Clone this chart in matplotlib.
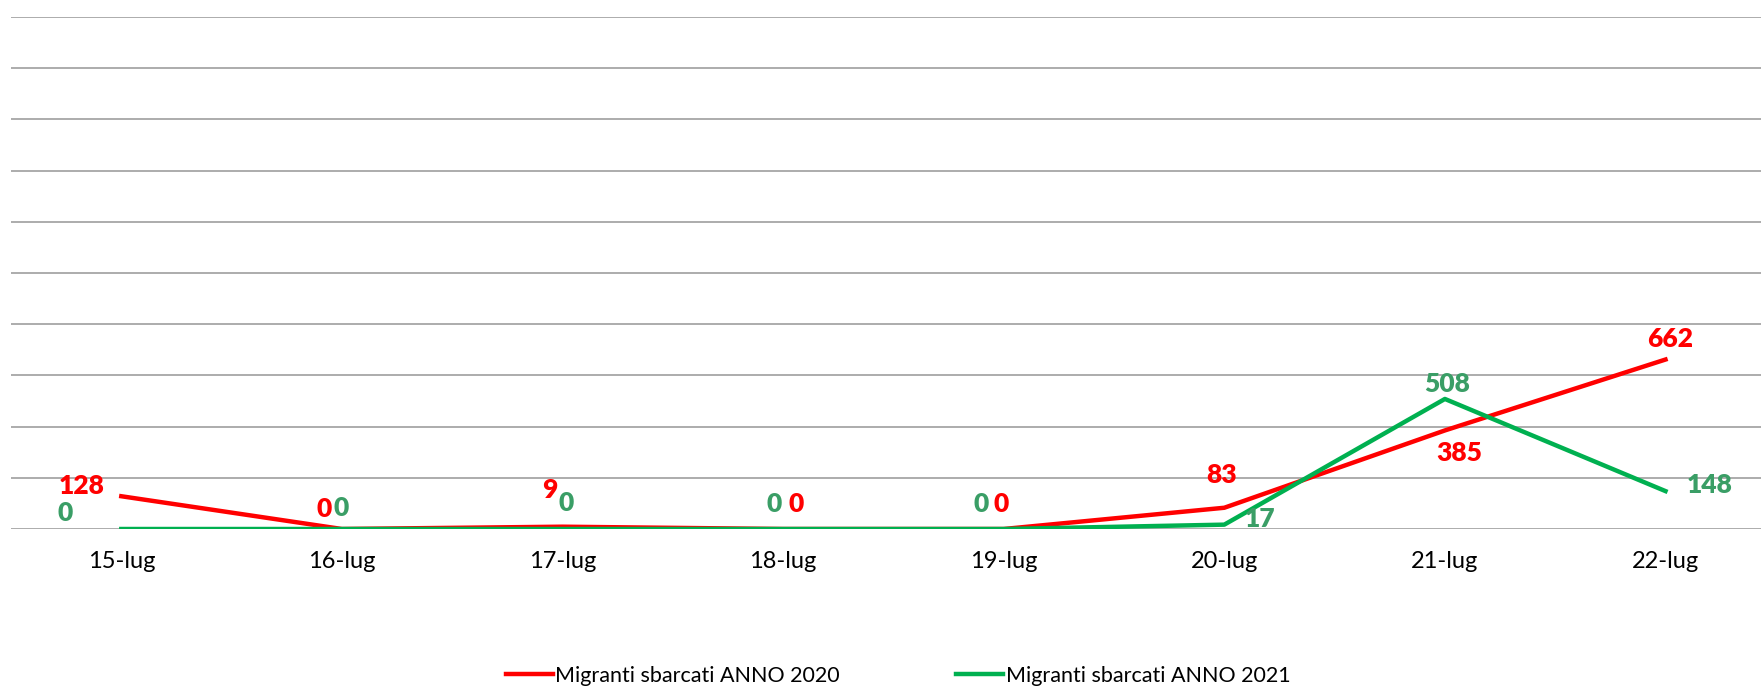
import matplotlib
matplotlib.use('Agg')
import matplotlib.pyplot as plt

plt.rcParams['font.family'] = ['Lato', 'DejaVu Sans']

giorni = ['15-lug', '16-lug', '17-lug', '18-lug', '19-lug', '20-lug', '21-lug', '22-lug']
anno_2020 = [128, 0, 9, 0, 0, 83, 385, 662]
anno_2021 = [0, 0, 0, 0, 0, 17, 508, 148]

# label offsets in pixels (dx, dy)
off_2020 = [(-40, 10), (-18, 20), (-13, 37), (13, 25), (-3, 25), (-3, 33), (14, -23), (5, 21)]
off_2021 = [(-56, 16), (-1, 21), (4, 26), (-9, 25), (-23, 25), (36, 6), (2, 15), (44, 6)]

rosso = '#FF0000'
verde = '#00B050'
verde_lab = '#3A9E66'

fig = plt.figure(figsize=(17.61, 6.89), dpi=100)
ax = fig.add_axes([11 / 1761, 160 / 689, 1750 / 1761, 512 / 689])

x = list(range(len(giorni)))
ax.plot(x, anno_2020, color=rosso, lw=3.2, label='Migranti sbarcati ANNO 2020', zorder=3)
ax.plot(x, anno_2021, color=verde, lw=3.2, label='Migranti sbarcati ANNO 2021', zorder=3)

for i in x:
    ax.annotate(str(anno_2020[i]), (i, anno_2020[i]), xytext=off_2020[i], textcoords='offset pixels',
                ha='center', va='center', color=rosso, fontsize=19, fontweight='heavy')
    ax.annotate(str(anno_2021[i]), (i, anno_2021[i]), xytext=off_2021[i], textcoords='offset pixels',
                ha='center', va='center', color=verde_lab, fontsize=19, fontweight='heavy')

ax.set_xlim(-0.5, -0.5 + 1750 / 220.6)
ax.set_ylim(0, 2000)
ax.set_yticks(range(0, 2001, 200))
ax.yaxis.grid(True, color='#A6A6A6', lw=1.3)
ax.set_axisbelow(True)
ax.tick_params(axis='y', left=False, labelleft=False)
ax.set_xticks(x)
ax.set_xticklabels(giorni, fontsize=17)
ax.tick_params(axis='x', length=0, pad=16)
for s in ax.spines.values():
    s.set_visible(False)

fig.legend(loc='center', bbox_to_anchor=(898 / 1761, 1 - 676 / 689), ncol=2, frameon=False,
           fontsize=15.5, handlelength=2.2, handletextpad=0.1, columnspacing=5.4)

fig.savefig('out.png', dpi=100)
